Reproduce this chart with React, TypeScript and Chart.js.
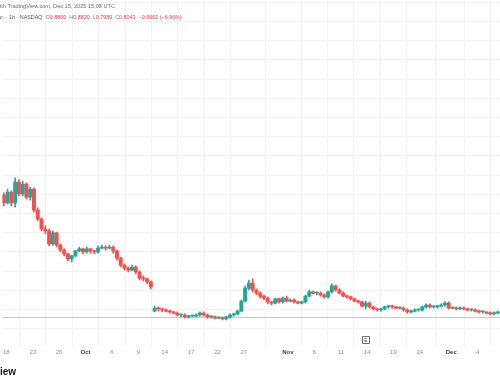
import React, { useEffect, useRef } from 'react';
import { Chart, registerables } from 'chart.js';

Chart.register(...registerables);

// Each candle groups three hourly bars; index = hourly bar counted from Sep 18 09:30
const candleHourStep = 3;
const firstCandleBar = -2;

const opens = [1.123,1.103,1.131,1.103,1.157,1.126,1.152,1.118,1.139,1.084,
1.061,1.035,1.030,0.996,1.025,0.993,0.980,0.970,0.957,0.965,
0.978,0.983,0.975,0.983,0.978,0.975,0.985,0.988,0.985,0.988,
0.978,0.959,0.941,0.933,0.928,0.936,0.923,0.907,0.905,0.897,
0.821,0.829,0.827,0.824,0.821,0.819,0.816,0.811,0.811,0.806,
0.808,0.808,0.811,0.816,0.811,0.806,0.806,0.803,0.803,0.801,
0.806,0.811,0.814,0.821,0.847,0.881,0.894,0.876,0.868,0.860,
0.855,0.845,0.842,0.853,0.845,0.855,0.847,0.850,0.845,0.842,
0.845,0.860,0.871,0.868,0.868,0.863,0.858,0.871,0.887,0.876,
0.868,0.860,0.858,0.853,0.847,0.845,0.834,0.842,0.832,0.827,
0.824,0.827,0.832,0.834,0.832,0.829,0.829,0.824,0.819,0.821,
0.824,0.824,0.832,0.837,0.832,0.832,0.834,0.837,0.842,0.829,
0.829,0.827,0.829,0.827,0.824,0.824,0.821,0.819,0.819,0.816,
0.814,0.816];

const closes = [1.103,1.131,1.103,1.157,1.126,1.152,1.118,1.139,1.084,1.061,
1.035,1.030,0.996,1.025,0.993,0.980,0.970,0.957,0.965,0.978,
0.983,0.975,0.983,0.978,0.975,0.985,0.988,0.985,0.988,0.978,
0.959,0.941,0.933,0.928,0.936,0.923,0.907,0.905,0.897,0.884,
0.829,0.827,0.824,0.821,0.819,0.816,0.811,0.811,0.806,0.808,
0.808,0.811,0.816,0.811,0.806,0.806,0.803,0.803,0.801,0.806,
0.811,0.814,0.821,0.847,0.881,0.894,0.876,0.868,0.860,0.855,
0.845,0.842,0.853,0.845,0.855,0.847,0.850,0.845,0.842,0.845,
0.860,0.871,0.868,0.868,0.863,0.858,0.871,0.887,0.876,0.868,
0.860,0.858,0.853,0.847,0.845,0.834,0.842,0.832,0.827,0.824,
0.827,0.832,0.834,0.832,0.829,0.829,0.824,0.819,0.821,0.824,
0.824,0.832,0.837,0.832,0.832,0.834,0.837,0.842,0.829,0.829,
0.827,0.829,0.827,0.824,0.824,0.821,0.819,0.819,0.816,0.814,
0.816,0.819];

const highs = [1.129,1.139,1.134,1.168,1.163,1.160,1.155,1.144,1.142,1.090,
1.064,1.043,1.035,1.030,1.027,0.996,0.983,0.972,0.967,0.980,
0.988,0.985,0.988,0.985,0.980,0.991,0.993,0.991,0.993,0.991,
0.980,0.962,0.944,0.936,0.941,0.939,0.926,0.913,0.907,0.900,
0.834,0.832,0.829,0.827,0.824,0.821,0.819,0.814,0.814,0.811,
0.811,0.814,0.819,0.819,0.814,0.808,0.808,0.806,0.806,0.808,
0.814,0.816,0.824,0.850,0.887,0.902,0.905,0.879,0.871,0.863,
0.858,0.847,0.855,0.855,0.858,0.860,0.853,0.853,0.847,0.847,
0.863,0.876,0.873,0.871,0.871,0.866,0.873,0.892,0.889,0.879,
0.871,0.863,0.860,0.855,0.850,0.847,0.847,0.845,0.834,0.829,
0.829,0.834,0.837,0.837,0.834,0.832,0.832,0.827,0.824,0.827,
0.827,0.834,0.840,0.840,0.834,0.837,0.840,0.845,0.845,0.832,
0.832,0.832,0.832,0.829,0.827,0.827,0.824,0.821,0.819,0.819,
0.819,0.821];

const lows = [1.095,1.100,1.095,1.092,1.121,1.121,1.113,1.110,1.079,1.056,
1.030,1.022,0.991,0.993,0.988,0.975,0.965,0.952,0.949,0.962,
0.975,0.970,0.972,0.972,0.970,0.972,0.983,0.980,0.983,0.972,
0.954,0.936,0.928,0.923,0.926,0.918,0.902,0.900,0.892,0.879,
0.819,0.821,0.819,0.819,0.816,0.814,0.808,0.806,0.803,0.803,
0.806,0.806,0.808,0.808,0.803,0.803,0.801,0.801,0.798,0.798,
0.803,0.808,0.811,0.819,0.845,0.876,0.871,0.863,0.855,0.850,
0.840,0.837,0.840,0.842,0.842,0.845,0.845,0.842,0.840,0.840,
0.842,0.858,0.866,0.863,0.860,0.855,0.855,0.868,0.873,0.866,
0.858,0.855,0.850,0.845,0.842,0.832,0.827,0.829,0.824,0.821,
0.821,0.824,0.829,0.829,0.827,0.827,0.821,0.816,0.816,0.819,
0.821,0.821,0.829,0.829,0.829,0.829,0.832,0.834,0.827,0.827,
0.824,0.824,0.824,0.821,0.821,0.819,0.816,0.816,0.814,0.811,
0.811,0.814];

const tickBars = [0, 21, 42, 63, 84, 105, 126, 147, 168, 189, 224, 245, 266, 287, 308, 329, 354, 375];
const tickLabels = ['18', '23', '26', 'Oct', '6', '9', '14', '17', '22', '27', 'Nov', '6', '11', '14', '19', '24', 'Dec', '4'];
const monthLabels = ['Oct', 'Nov', 'Dec'];
const gridPrices = [0.775, 0.825, 0.875, 0.925, 0.975, 1.025, 1.075, 1.125, 1.175, 1.225, 1.275, 1.325, 1.375, 1.425, 1.475, 1.525, 1.575, 1.625];

const xMin = -3.17;
const xMax = 392.8;
const yMin = 0.7302;
const yMax = 1.63125;
const lastClose = 0.8043;
const earningsBar = 286;

const UP = '#26a69a';
const DOWN = '#ef5350';
const FONT = "'Liberation Sans', Arial, sans-serif";

const overlayPlugin = {
  id: 'overlay',
  beforeDatasetsDraw(chart: any) {
    const { ctx, chartArea, scales } = chart;
    const y = scales.y.getPixelForValue(lastClose);
    ctx.save();
    ctx.strokeStyle = 'rgba(242,54,69,0.4)';
    ctx.lineWidth = 1;
    ctx.beginPath();
    ctx.moveTo(chartArea.left, y);
    ctx.lineTo(chartArea.right, y);
    ctx.stroke();
    ctx.restore();
  },
  afterDatasetsDraw(chart: any) {
    const { ctx, chartArea, scales } = chart;
    const x = scales.x.getPixelForValue(earningsBar);
    const b = chartArea.bottom;
    ctx.save();
    ctx.fillStyle = '#ffffff';
    ctx.strokeStyle = '#6a6d78';
    ctx.lineWidth = 1;
    ctx.beginPath();
    ctx.rect(Math.round(x - 4) + 0.5, b - 9.5, 7, 7);
    ctx.fill();
    ctx.stroke();
    ctx.fillStyle = '#444';
    ctx.font = `5px ${FONT}`;
    ctx.textAlign = 'center';
    ctx.textBaseline = 'middle';
    ctx.fillText('E', Math.round(x - 4) + 4, b - 5.8);
    ctx.restore();
  },
};

export default function App() {
  const ref = useRef<HTMLCanvasElement | null>(null);

  useEffect(() => {
    document.body.style.margin = '0';
    const canvas = ref.current;
    if (!canvas) return;
    const bars = opens.map((_, k) => firstCandleBar + candleHourStep * k);
    const colors = opens.map((o, k) => (closes[k] >= o ? UP : DOWN));
    const chart = new Chart(canvas, {
      type: 'bar',
      data: {
        datasets: [
          {
            label: 'body',
            data: bars.map((b, k) => ({ x: b, y: [opens[k], closes[k]] })) as any,
            backgroundColor: colors,
            borderWidth: 0,
            barThickness: 3.3,
            minBarLength: 1,
            grouped: false,
            order: 0,
          } as any,
          {
            label: 'wick',
            data: bars.map((b, k) => ({ x: b, y: [lows[k], highs[k]] })) as any,
            backgroundColor: colors,
            borderWidth: 0,
            barThickness: 1,
            grouped: false,
            order: 1,
          } as any,
        ],
      },
      options: {
        animation: false,
        responsive: false,
        events: [],
        layout: { padding: { top: 0, bottom: 23.8, left: 0, right: 0 }, autoPadding: false } as any,
        plugins: { legend: { display: false }, tooltip: { enabled: false } },
        scales: {
          x: {
            type: 'linear',
            min: xMin,
            max: xMax,
            offset: false,
            border: { display: false },
            grid: { color: '#f0f2f5', drawTicks: false, lineWidth: 1 },
            afterBuildTicks: (s: any) => {
              s.ticks = tickBars.map((v) => ({ value: v }));
            },
            ticks: {
              autoSkip: false,
              maxRotation: 0,
              minRotation: 0,
              padding: 3,
              color: (c: any) => (monthLabels.includes(tickLabels[c.index]) ? '#3a3d46' : '#8a8d96'),
              font: (c: any) => ({
                family: FONT,
                size: 6,
                weight: monthLabels.includes(tickLabels[c.index]) ? 'bold' : 'normal',
              }),
              callback: (_v: any, i: number) => tickLabels[i],
            },
          },
          y: {
            type: 'linear',
            position: 'right',
            min: yMin,
            max: yMax,
            border: { display: false },
            grid: { color: '#f0f2f5', drawTicks: false, lineWidth: 1 },
            afterBuildTicks: (s: any) => {
              s.ticks = gridPrices.map((v) => ({ value: v }));
            },
            ticks: { display: false },
          },
        },
      } as any,
      plugins: [overlayPlugin],
    });
    return () => chart.destroy();
  }, []);

  const small: React.CSSProperties = {
    position: 'absolute',
    fontFamily: FONT,
    lineHeight: '7px',
    whiteSpace: 'nowrap',
  };
  const red = { color: '#f23645' };
  const gray = { color: '#787b86' };
  const gap = { marginLeft: '3px' };

  return (
    <div style={{ position: 'fixed', left: 0, top: 0, width: 500, height: 383, background: '#ffffff', overflow: 'hidden' }}>
      <canvas ref={ref} width={500} height={383} style={{ display: 'block', width: 500, height: 383 }} />
      <div style={{ ...small, fontSize: '5.6px', left: -4, top: 3, color: '#6a6d78' }}>with TradingView.com, Dec 15, 2025 15:08 UTC</div>
      <div style={{ ...small, fontSize: '5.4px', left: 0, top: 14, color: '#50535e' }}>
        c. · 1h · NASDAQ
        <span style={{ ...gray, ...gap }}>O</span><span style={red}>0.8800</span>
        <span style={{ ...gray, ...gap }}>H</span><span style={red}>0.8820</span>
        <span style={{ ...gray, ...gap }}>L</span><span style={red}>0.7980</span>
        <span style={{ ...gray, ...gap }}>C</span><span style={red}>0.8043</span>
        <span style={{ ...red, ...gap }}>−0.0602 (−6.96%)</span>
      </div>
      <div style={{ position: 'absolute', left: 0, top: 366, fontFamily: FONT, fontWeight: 'bold', fontSize: '10px', lineHeight: '12px', color: '#131722' }}>iew</div>
    </div>
  );
}
